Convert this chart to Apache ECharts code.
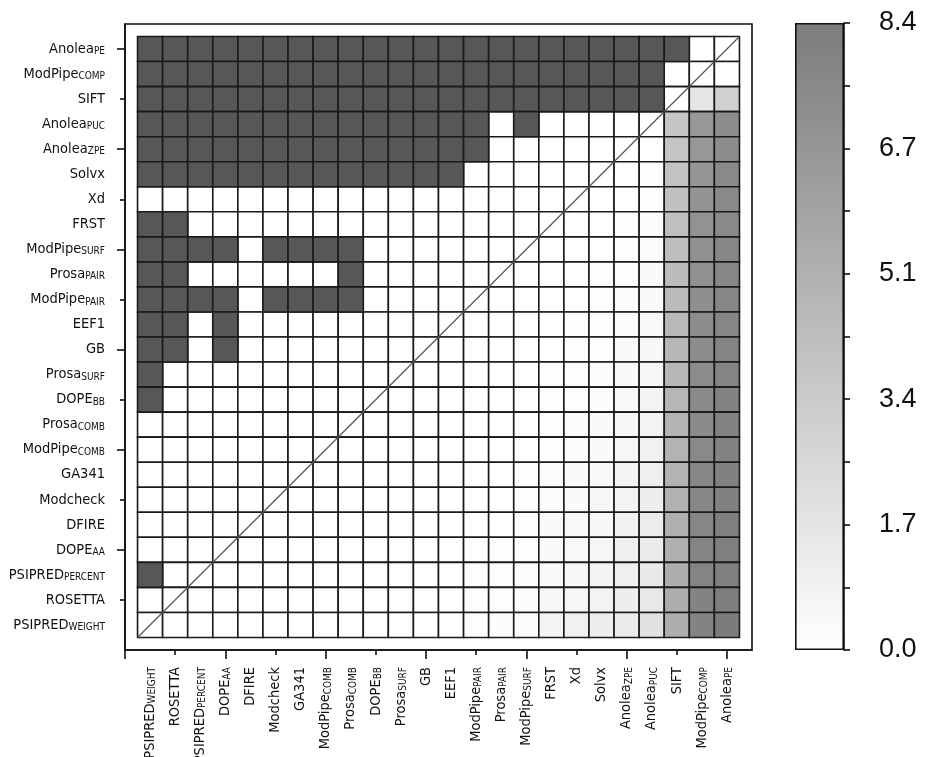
<!DOCTYPE html>
<html>
<head>
<meta charset="utf-8">
<script src="https://cdn.jsdelivr.net/npm/echarts@6/dist/echarts.min.js"></script>
<style>
html,body{margin:0;padding:0;background:#fff;}
#chart{width:925px;height:757px;}
</style>
</head>
<body>
<div id="chart"></div>
<script>
// ---- DATA ----
// Rows, top to bottom (columns are the same methods in reverse order)
const methodBase = ['Anolea','ModPipe','SIFT','Anolea','Anolea','Solvx','Xd','FRST','ModPipe','Prosa','ModPipe','EEF1','GB','Prosa','DOPE','Prosa','ModPipe','GA341','Modcheck','DFIRE','DOPE','PSIPRED','ROSETTA','PSIPRED'];
const methodSub  = ['PE','COMP','','PUC','ZPE','','','','SURF','PAIR','PAIR','','','SURF','BB','COMB','COMB','','','','AA','PERCENT','','WEIGHT'];

// Upper-left triangle: significant (1, dark) or not (0), row r, columns 0 .. 22-r
const significant = [
  '11111 11111 11111 11111 110',
  '11111 11111 11111 11111 10',
  '11111 11111 11111 11111 1',
  '11111 11111 1111 0 1 0000',
  '11111 11111 1111 00000',
  '11111 11111 111 00000',
  '00000 00000 00000 00',
  '11 00000 00000 0000',
  '1111 0 1111 000000',
  '11 000000 1 00000',
  '1111 0 1111 0000',
  '1101 00000000',
  '1101 0000000',
  '1 000000000',
  '1 00000000',
  '00000000',
  '0000000',
  '000000',
  '00000',
  '0000',
  '000',
  '10',
  '0',
  ''
];

// Lower-right triangle scores, row r, columns 24-r .. 23
const scoreRows = [
  [],
  [0.0],
  [1.7, 3.0],
  [3.7, 6.6, 7.3],
  [0.0, 3.8, 6.7, 7.4],
  [0.0, 0.1, 3.9, 6.8, 7.5],
  [0.0, 0.0, 0.1, 4.0, 6.9, 7.6],
  [0.0, 0.0, 0.1, 0.2, 4.1, 7.0, 7.6],
  [0.0, 0.0, 0.0, 0.1, 0.2, 4.2, 7.1, 7.7],
  [0.0, 0.0, 0.0, 0.1, 0.1, 0.3, 4.3, 7.1, 7.7],
  [0.0, 0.0, 0.0, 0.0, 0.1, 0.2, 0.3, 4.4, 7.2, 7.8],
  [0.0, 0.0, 0.0, 0.0, 0.1, 0.1, 0.2, 0.4, 4.5, 7.3, 7.8],
  [0.0, 0.0, 0.0, 0.0, 0.0, 0.1, 0.1, 0.3, 0.5, 4.6, 7.3, 7.9],
  [0.0, 0.0, 0.0, 0.0, 0.0, 0.1, 0.1, 0.2, 0.3, 0.6, 4.6, 7.4, 7.9],
  [0.0, 0.0, 0.0, 0.0, 0.0, 0.0, 0.1, 0.1, 0.2, 0.4, 0.7, 4.7, 7.5, 8.0],
  [0.0, 0.0, 0.0, 0.0, 0.0, 0.0, 0.0, 0.1, 0.2, 0.3, 0.5, 0.8, 4.8, 7.5, 8.0],
  [0.0, 0.0, 0.0, 0.0, 0.0, 0.0, 0.0, 0.0, 0.1, 0.2, 0.3, 0.6, 0.9, 4.9, 7.6, 8.0],
  [0.0, 0.0, 0.0, 0.0, 0.0, 0.0, 0.0, 0.0, 0.1, 0.2, 0.3, 0.4, 0.7, 1.0, 4.9, 7.7, 8.1],
  [0.0, 0.0, 0.0, 0.0, 0.0, 0.0, 0.0, 0.0, 0.0, 0.1, 0.2, 0.3, 0.5, 0.8, 1.1, 5.0, 7.7, 8.1],
  [0.0, 0.0, 0.0, 0.0, 0.0, 0.0, 0.0, 0.0, 0.0, 0.0, 0.1, 0.3, 0.4, 0.5, 0.9, 1.2, 5.1, 7.8, 8.2],
  [0.0, 0.0, 0.0, 0.0, 0.0, 0.0, 0.0, 0.0, 0.0, 0.0, 0.1, 0.1, 0.3, 0.4, 0.6, 1.0, 1.3, 5.1, 7.9, 8.2],
  [0.0, 0.0, 0.0, 0.0, 0.0, 0.0, 0.0, 0.0, 0.0, 0.0, 0.1, 0.1, 0.2, 0.4, 0.5, 0.7, 1.0, 1.4, 5.2, 7.9, 8.2],
  [0.0, 0.0, 0.0, 0.0, 0.0, 0.0, 0.0, 0.0, 0.0, 0.0, 0.0, 0.1, 0.1, 0.2, 0.5, 0.6, 0.8, 1.1, 1.5, 5.3, 8.0, 8.3],
  [0.0, 0.0, 0.0, 0.0, 0.0, 0.0, 0.0, 0.0, 0.0, 0.0, 0.0, 0.0, 0.1, 0.2, 0.2, 0.7, 0.9, 1.1, 1.3, 1.9, 5.3, 8.0, 8.4]
];

const colorbarMax = 8.42;           // top of the colour scale
const colorbarSteps = 5;            // labelled intervals: 0.0 1.7 3.4 5.1 6.7 8.4
const scoreColors = ['#ffffff', '#7c7c7c'];
const sigColor = '#575757';

// ---- BUILD ----
const n = methodBase.length;
const blankCells = [], darkCells = [], scoreCells = [];
significant.forEach((s, r) => {
  s.replace(/ /g, '').split('').forEach((ch, c) => {
    (ch === '1' ? darkCells : blankCells).push([c, r, 1]);
  });
  blankCells.push([n - 1 - r, r, 0]); // diagonal cell
});
scoreRows.forEach((vals, r) => {
  vals.forEach((v, k) => scoreCells.push([n - r + k, r, v]));
});

function fontAvailable(name) {
  const ctx = document.createElement('canvas').getContext('2d');
  const sample = 'ROSETTA ModPipe wmil';
  ctx.font = '40px monospace';
  const w1 = ctx.measureText(sample).width;
  ctx.font = '40px "' + name + '", monospace';
  const w2 = ctx.measureText(sample).width;
  return Math.abs(w1 - w2) > 0.5;
}
let labelFont = 'Liberation Sans', baseSize = 14, subSize = 10;
if (fontAvailable('Liberation Sans Narrow')) { labelFont = 'Liberation Sans Narrow'; baseSize = 17; subSize = 11.2; }
else if (fontAvailable('DejaVu Sans Condensed')) { labelFont = 'DejaVu Sans Condensed'; baseSize = 14.5; subSize = 10; }

const rich = {
  b: { fontFamily: labelFont, fontSize: baseSize, color: '#111', verticalAlign: 'bottom' },
  s: { fontFamily: labelFont, fontSize: subSize, color: '#111', verticalAlign: 'bottom' }
};
function methodLabel(i) {
  return '{b|' + methodBase[i] + '}' + (methodSub[i] ? '{s|' + methodSub[i] + '}' : '');
}

const idx = methodBase.map((_, i) => i);
const yMajor = idx.filter(i => i % 4 === 0);
const yMinor = idx.filter(i => i % 4 === 2);
const xMajor = [-1].concat(idx.filter(i => (i + 1) % 4 === 0));
const xMinor = idx.filter(i => (i + 1) % 4 === 2);

function cellRenderer(fixedFill) {
  return function (params, api) {
    const c = api.value(0), r = api.value(1);
    const a = api.coord([c - 0.5, r - 0.5]);
    const b = api.coord([c + 0.5, r + 0.5]);
    return {
      type: 'rect',
      shape: { x: Math.min(a[0], b[0]), y: Math.min(a[1], b[1]), width: Math.abs(b[0] - a[0]), height: Math.abs(b[1] - a[1]) },
      style: { fill: fixedFill || api.visual('color'), stroke: '#1a1a1a', lineWidth: 1.6 }
    };
  };
}

const tickLine = { color: '#111', width: 1.6 };

const chart = echarts.init(document.getElementById('chart'), null, { renderer: 'canvas' });
chart.setOption({
  backgroundColor: '#fff',
  animation: false,
  grid: [
    { left: 125, top: 24, width: 627, height: 626, show: true, borderColor: '#111', borderWidth: 1.6,
      backgroundColor: 'transparent', containLabel: false, outerBoundsMode: 'none' },
    { left: 795, top: 23, width: 49, height: 627, containLabel: false, outerBoundsMode: 'none' }
  ],
  xAxis: [
    { type: 'value', gridIndex: 0, min: -1, max: n, position: 'bottom',
      axisLine: { show: true, onZero: false, lineStyle: tickLine },
      axisTick: { show: true, customValues: xMinor, length: 5, lineStyle: tickLine },
      axisLabel: { customValues: idx, rotate: 90, margin: 17, formatter: v => methodLabel(n - 1 - Math.round(v)), rich: rich },
      splitLine: { show: false } },
    { type: 'value', gridIndex: 0, min: -1, max: n, position: 'bottom',
      axisLine: { show: false, onZero: false },
      axisTick: { show: true, customValues: xMajor, length: 9, lineStyle: tickLine },
      axisLabel: { show: false }, splitLine: { show: false } },
    { type: 'category', gridIndex: 1, data: [''], show: false }
  ],
  yAxis: [
    { type: 'value', gridIndex: 0, min: -1, max: n, inverse: true, position: 'left',
      axisLine: { show: true, onZero: false, lineStyle: tickLine },
      axisTick: { show: true, customValues: yMinor, length: 5, lineStyle: tickLine },
      axisLabel: { customValues: idx, margin: 20, formatter: v => methodLabel(Math.round(v)), rich: rich },
      splitLine: { show: false } },
    { type: 'value', gridIndex: 0, min: -1, max: n, inverse: true, position: 'left',
      axisLine: { show: false, onZero: false },
      axisTick: { show: true, customValues: yMajor, length: 8, lineStyle: tickLine },
      axisLabel: { show: false }, splitLine: { show: false } },
    { type: 'value', gridIndex: 1, min: 0, max: colorbarMax, interval: colorbarMax / colorbarSteps, position: 'right',
      axisLine: { show: true, onZero: false, lineStyle: tickLine },
      axisTick: { show: true, length: 6, lineStyle: tickLine },
      minorTick: { show: true, splitNumber: 2, length: 6, lineStyle: tickLine },
      axisLabel: { fontFamily: 'Liberation Sans', fontSize: 27, color: '#111', margin: 35, formatter: v => v.toFixed(1) },
      splitLine: { show: false }, minorSplitLine: { show: false } }
  ],
  visualMap: {
    type: 'continuous', show: false, min: 0, max: colorbarMax, dimension: 2, seriesIndex: [2],
    inRange: { color: scoreColors }
  },
  series: [
    { type: 'custom', name: 'not significant', xAxisIndex: 0, yAxisIndex: 0, data: blankCells,
      renderItem: cellRenderer('#ffffff'), silent: true, z: 2 },
    { type: 'custom', name: 'significant', xAxisIndex: 0, yAxisIndex: 0, data: darkCells,
      renderItem: cellRenderer(sigColor), silent: true, z: 2 },
    { type: 'custom', name: 'score', xAxisIndex: 0, yAxisIndex: 0, data: scoreCells,
      renderItem: cellRenderer(null), silent: true, z: 2 },
    { type: 'line', name: 'diagonal', xAxisIndex: 0, yAxisIndex: 0,
      data: [[-0.5, n - 0.5], [n - 0.5, -0.5]], symbol: 'none', silent: true, z: 3,
      lineStyle: { color: '#555', width: 1.2 } },
    { type: 'bar', name: 'colorbar', xAxisIndex: 2, yAxisIndex: 2, data: [colorbarMax], barWidth: '100%', silent: true,
      itemStyle: {
        color: new echarts.graphic.LinearGradient(0, 0, 0, 1, [
          { offset: 0, color: scoreColors[1] }, { offset: 1, color: scoreColors[0] }
        ]),
        borderColor: '#111', borderWidth: 1.6
      } }
  ]
});
</script>
</body>
</html>
